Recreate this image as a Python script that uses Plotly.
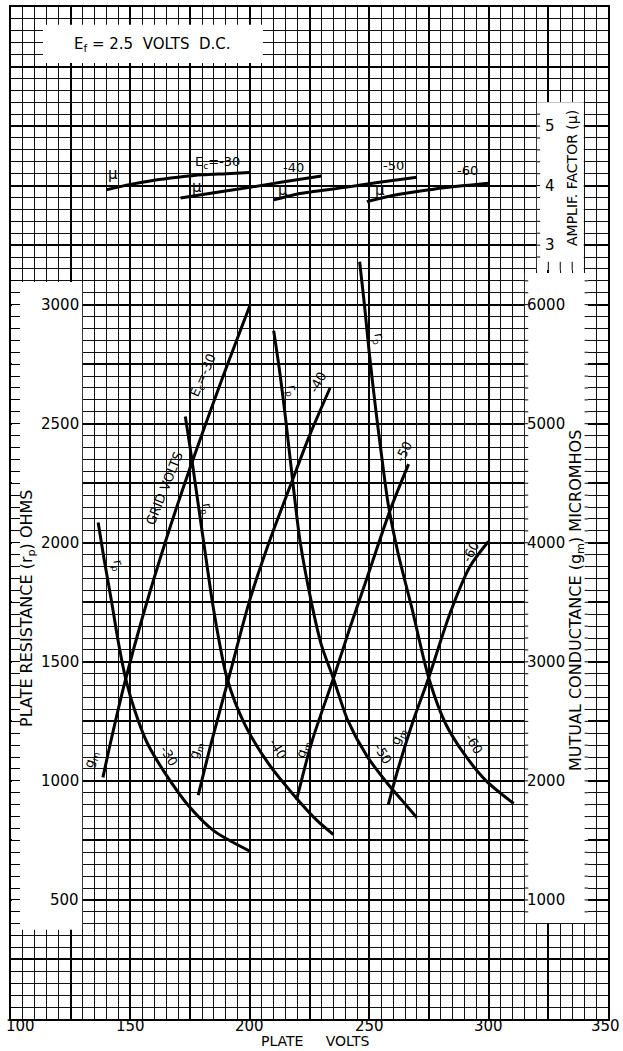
import plotly.graph_objects as go

# ---------------- data ----------------
# Plate resistance rp (ohms) vs plate volts, grid bias -30/-40/-50/-60
rp30_v = [136.5, 139, 142, 145, 148, 152, 157, 165, 174, 185, 200]
rp30_r = [2085, 1930, 1760, 1580, 1430, 1290, 1160, 1025, 900, 790, 705]
rp40_v = [173, 175, 178, 181, 185, 190.5, 198, 208, 218, 228, 235]
rp40_r = [2530, 2400, 2190, 1980, 1710, 1430, 1235, 1070, 945, 835, 775]
rp50_v = [210, 212.5, 215, 217.5, 221, 226, 230, 235, 241, 249, 258, 264, 270]
rp50_r = [2890, 2720, 2520, 2300, 2010, 1740, 1570, 1430, 1255, 1105, 985, 915, 845]
rp60_v = [246, 248, 250, 252.5, 255, 258, 262, 268, 275, 282, 290, 299, 310.5]
rp60_r = [3180, 3000, 2800, 2580, 2380, 2160, 1960, 1720, 1430, 1240, 1110, 1000, 905]

# Mutual conductance gm (micromhos) vs plate volts
gm30_v = [138.5, 142, 147.5, 155, 165, 175, 187, 200]
gm30_g = [2030, 2350, 2815, 3370, 4030, 4630, 5300, 5990]
gm40_v = [178.4, 184, 191, 200, 208, 216.8, 225, 233.6]
gm40_g = [1880, 2330, 2850, 3520, 4000, 4470, 4900, 5300]
gm50_v = [219.6, 226, 235, 242, 249, 258.7, 266.5]
gm50_g = [1840, 2330, 2860, 3290, 3700, 4270, 4660]
gm60_v = [258, 261.5, 268, 274.8, 283.9, 292.2, 299.9]
gm60_g = [1800, 2060, 2480, 2860, 3410, 3800, 4010]

# Amplification factor mu vs plate volts
mu30_v = [140, 150, 160, 170, 180, 190, 200]
mu30_m = [3.93, 4.02, 4.09, 4.14, 4.18, 4.20, 4.22]
mu40_v = [171, 185, 200, 215, 230]
mu40_m = [3.79, 3.88, 3.97, 4.07, 4.16]
mu50_v = [210, 220, 240, 255, 270]
mu50_m = [3.76, 3.86, 3.97, 4.06, 4.14]
mu60_v = [249, 262, 277, 290, 300]
mu60_m = [3.73, 3.85, 3.94, 4.00, 4.04]

x_ticks = [100, 150, 200, 250, 300, 350]
rp_ticks = [500, 1000, 1500, 2000, 2500, 3000]
gm_ticks = [1000, 2000, 3000, 4000, 5000, 6000]
mu_ticks = [3, 4, 5]

# ---------------- figure ----------------
W, H = 623, 1051
L, R, T, B = 11, 15, 7, 32
PW, PH = W - L - R, H - T - B
FONT = "DejaVu Sans"
SP = "\u00a0"


def px(x):
    return (x - L) / PW


def py(y):
    return (H - B - y) / PH


fig = go.Figure()
LINE = dict(color="black", width=3, shape="spline", smoothing=0.8)

for v, r in [(rp30_v, rp30_r), (rp40_v, rp40_r), (rp50_v, rp50_r), (rp60_v, rp60_r)]:
    fig.add_trace(go.Scatter(x=v, y=r, mode="lines", line=LINE, yaxis="y",
                             showlegend=False, hoverinfo="skip"))
for v, g in [(gm30_v, gm30_g), (gm40_v, gm40_g), (gm50_v, gm50_g), (gm60_v, gm60_g)]:
    fig.add_trace(go.Scatter(x=v, y=g, mode="lines", line=LINE, yaxis="y2",
                             showlegend=False, hoverinfo="skip"))
for v, m in [(mu30_v, mu30_m), (mu40_v, mu40_m), (mu50_v, mu50_m), (mu60_v, mu60_m)]:
    fig.add_trace(go.Scatter(x=v, y=m, mode="lines", line=LINE, yaxis="y3",
                             showlegend=False, hoverinfo="skip"))

grid_common = dict(showgrid=True, gridcolor="black", gridwidth=2, zeroline=False,
                   showticklabels=False, showline=True, linecolor="black",
                   linewidth=2, mirror=True)

fig.update_layout(
    width=W, height=H,
    margin=dict(l=L, r=R, t=T, b=B, autoexpand=False),
    paper_bgcolor="white", plot_bgcolor="white",
    showlegend=False,
    xaxis=dict(range=[100, 350], dtick=25, tick0=100, ticks="",
               minor=dict(dtick=5, showgrid=True, gridcolor="#111111", gridwidth=1.4),
               **grid_common),
    yaxis=dict(range=[0, 4250], dtick=250, tick0=0, ticks="inside", ticklen=9,
               tickcolor="black", tickwidth=1,
               minor=dict(dtick=50, showgrid=True, gridcolor="#111111", gridwidth=1.4,
                          ticks="inside", ticklen=9, tickcolor="black"),
               **grid_common),
    yaxis2=dict(range=[0, 8500], overlaying="y", visible=False),
    yaxis3=dict(range=[-10, 7], overlaying="y", visible=False),
)

# white label panels covering the grid
shapes = []
def white(x0, x1, y0, y1):
    shapes.append(dict(type="rect", xref="x", yref="y", x0=x0, x1=x1, y0=y0, y1=y1,
                       fillcolor="white", line=dict(width=0), layer="between"))

white(113.4, 205.5, 4015, 4175)      # Ef box
white(100.4, 129.8, 375, 3095)       # left rp scale
white(315.2, 341.6, 403, 3133)       # right gm scale
white(320.2, 339.85, 3146, 3850)     # mu scale

# small ticks on the right panels
for k in range(9, 63):
    r = k * 50
    shapes.append(dict(type="line", xref="x", yref="y", x0=315.1, x1=316.6, y0=r, y1=r,
                       line=dict(color="black", width=1), layer="above"))
    shapes.append(dict(type="line", xref="x", yref="y", x0=340.2, x1=341.6, y0=r, y1=r,
                       line=dict(color="black", width=1), layer="above"))
for k in range(64, 77):
    r = k * 50
    shapes.append(dict(type="line", xref="x", yref="y", x0=320.2, x1=321.6, y0=r, y1=r,
                       line=dict(color="black", width=1), layer="above"))
for vv in [325, 330, 335]:
    shapes.append(dict(type="line", xref="x", yref="y", x0=vv, x1=vv, y0=3146, y1=3180,
                       line=dict(color="black", width=1), layer="above"))
fig.update_layout(shapes=shapes)

ann = []
def text(t, x, y, size=13, angle=0, xanchor="center", yanchor="middle"):
    ann.append(dict(text=t, x=px(x), y=py(y), xref="paper", yref="paper",
                    showarrow=False, textangle=angle, xanchor=xanchor, yanchor=yanchor,
                    font=dict(family=FONT, size=size, color="black")))

# tick labels
for v in rp_ticks:
    ann.append(dict(text=str(v), x=px(81), xref="paper", y=v, yref="y", xanchor="right",
                    yanchor="middle", showarrow=False,
                    font=dict(family=FONT, size=15, color="black")))
for g in gm_ticks:
    ann.append(dict(text=str(g), x=px(525), xref="paper", y=g, yref="y2", xanchor="left",
                    yanchor="middle", showarrow=False,
                    font=dict(family=FONT, size=15, color="black")))
for m in mu_ticks:
    ann.append(dict(text=str(m), x=px(550), xref="paper", y=m, yref="y3", xanchor="center",
                    yanchor="middle", showarrow=False,
                    font=dict(family=FONT, size=15, color="black")))
for v in x_ticks:
    if v == 100:
        ann.append(dict(text=str(v), x=px(4), xref="paper", y=py(1026), yref="paper",
                        xanchor="left", yanchor="middle", showarrow=False,
                        font=dict(family=FONT, size=15, color="black")))
    elif v == 350:
        ann.append(dict(text=str(v), x=px(622), xref="paper", y=py(1026), yref="paper",
                        xanchor="right", yanchor="middle", showarrow=False,
                        font=dict(family=FONT, size=15, color="black")))
    else:
        ann.append(dict(text=str(v), x=v, xref="x", y=py(1026), yref="paper",
                        xanchor="center", yanchor="middle", showarrow=False,
                        font=dict(family=FONT, size=15, color="black")))

# axis titles
text("PLATE" + SP * 5 + "VOLTS", 315, 1051, 14, yanchor="bottom")
text("PLATE RESISTANCE (r<sub>p</sub>) OHMS", 27, 608, 16, -90)
text("MUTUAL CONDUCTANCE (g<sub>m</sub>) MICROMHOS", 577, 601, 16, -90)
text("AMPLIF. FACTOR (\u03bc)", 572, 178, 14, -90)
text("E<sub>f</sub> = 2.5" + SP * 2 + "VOLTS" + SP * 2 + "D.C.", 152, 44, 15)

# curve labels
for (x, y) in [(117, 565), (207, 508), (292, 390), (379, 338)]:
    text("r<sub>p</sub>", x, y, 13, 80)
for (x, y, a) in [(91, 760, -72), (196, 750, -72), (303, 750, -72), (398, 737, -65)]:
    text("g<sub>m</sub>", x, y, 13, a)
for (t, x, y) in [("-30", 169, 755), ("-40", 278, 748), ("-50", 383, 753), ("-60", 474, 743)]:
    text(t, x, y, 13, 58)
text("GRID" + SP + "VOLTS", 164, 488, 13, -68)
text("E<sub>c</sub>=-30", 203, 376, 13, -66)
for (t, x, y) in [("-40", 318, 383), ("-50", 403, 452), ("-60", 470, 552)]:
    text(t, x, y, 13, -62)

# mu labels
for (x, y) in [(113, 174), (197, 187), (283, 190), (380, 190)]:
    text("\u03bc", x, y, 15)
text("E<sub>c</sub>=-30", 217, 162, 13)
text("-40", 293, 168, 13)
text("-50", 393, 166, 13)
text("-60", 467, 171, 13)

fig.update_layout(annotations=ann)
fig.write_html(
    "out.html",
    config={"displayModeBar": False},
    post_script="document.body.style.margin='0';document.body.style.padding='0';"
                "document.body.style.overflow='hidden';",
)
